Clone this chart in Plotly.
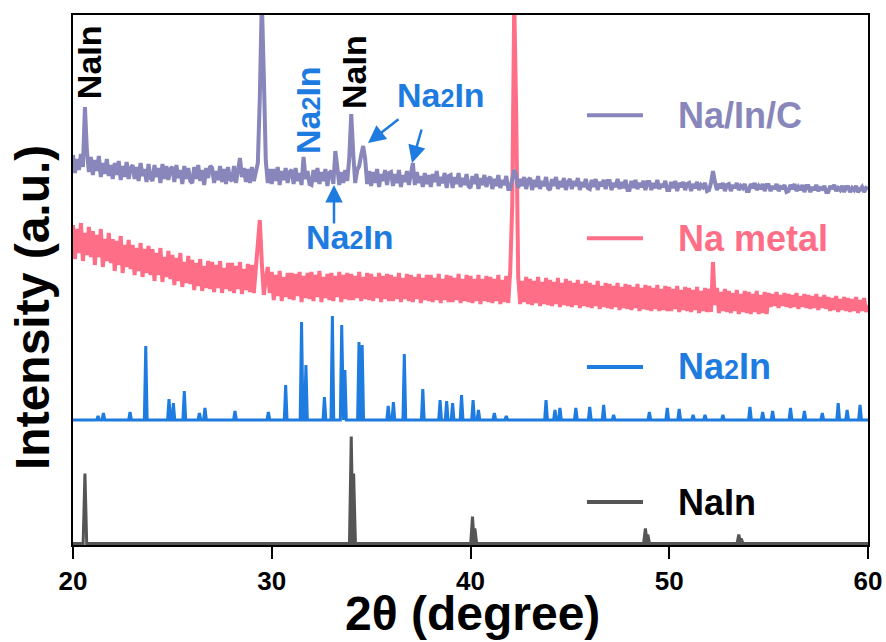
import numpy as np
import plotly.graph_objects as go

# ---------------- data ----------------
two_theta = np.round(np.arange(20.0, 60.05, 0.1), 1)

# Na/In/C measured pattern (offset intensity, a.u.), 20.0 .. 60.0 step 0.1
na_in_c = [
    390,372,386,375,391,378,438,394,373,388,
    370,385,374,389,368,382,371,386,369,380,
    366,382,370,384,365,379,368,383,366,377,
    380,366,378,364,382,369,376,363,381,367,
    364,380,368,377,362,381,366,379,365,376,
    378,363,380,367,375,361,379,366,377,364,
    362,378,366,380,364,375,360,377,367,379,
    377,362,374,365,379,363,376,361,378,366,
    364,379,362,378,387,368,377,363,376,362,
    378,364,375,382,448,545,470,384,362,376,
    361,376,364,378,360,374,365,377,362,373,
    375,361,377,364,372,360,388,366,374,361,
    360,375,363,377,361,373,364,376,359,372,
    374,361,394,377,360,373,362,375,364,387,
    431,391,362,375,379,390,399,386,361,374,
    359,373,362,376,358,371,364,375,360,372,
    373,359,371,362,375,358,370,363,374,360,
    371,382,360,373,362,369,358,372,361,370,
    358,371,363,374,359,368,362,372,357,369,
    370,357,368,361,372,358,367,360,371,359,
    357,369,361,371,356,367,360,370,358,366,
    368,356,366,359,370,357,365,360,369,356,
    356,368,375,369,357,366,359,368,356,365,
    367,355,365,358,369,356,364,359,368,357,
    355,366,359,368,356,364,358,367,355,363,
    366,356,364,359,367,355,363,358,366,357,
    356,365,358,366,355,363,359,365,356,364,
    364,355,362,358,366,356,363,357,365,355,
    355,364,357,365,356,362,358,364,355,363,
    363,355,362,357,365,356,361,358,364,355,
    355,363,357,364,354,362,358,363,355,361,
    362,354,361,357,363,355,360,358,362,354,
    355,362,374,363,355,361,357,362,354,360,
    361,354,360,357,362,355,359,357,361,354,
    354,361,357,362,355,359,356,361,354,360,
    360,354,359,356,361,354,358,357,360,353,
    354,360,356,361,354,358,355,360,353,359,
    359,353,358,355,360,354,357,356,359,353,
    353,359,356,360,354,357,355,359,353,358,
    358,353,357,355,359,353,356,358,353,357,
    356,
]

# Na metal measured pattern (offset intensity, a.u.)
na_metal = [
    320,286,316,292,322,284,312,290,318,288,
    314,280,310,288,316,278,306,284,312,282,
    306,274,304,280,309,272,300,278,305,276,
    300,270,297,274,302,268,296,272,299,270,
    296,264,292,270,297,263,288,268,294,266,
    290,260,287,264,292,258,283,262,289,261,
    285,255,282,259,286,254,279,257,284,256,
    283,253,280,257,284,252,277,256,282,254,
    282,252,279,256,283,251,276,255,281,253,
    280,252,277,300,325,282,250,266,278,252,
    273,245,270,249,274,244,268,248,272,246,
    272,245,271,249,273,243,269,247,272,246,
    273,244,270,248,274,243,268,247,271,245,
    272,244,269,248,273,243,270,246,272,245,
    271,245,269,247,273,244,268,246,272,245,
    271,244,268,247,272,243,269,246,271,244,
    270,244,268,246,272,243,267,246,271,244,
    270,243,268,246,271,242,267,245,270,244,
    270,243,267,245,271,242,266,245,270,243,
    269,243,267,245,271,242,266,244,270,243,
    269,242,266,244,270,241,266,244,269,243,
    268,242,266,244,270,241,265,243,269,242,
    275,340,545,430,268,241,264,243,268,241,
    266,240,264,242,268,239,263,241,267,240,
    265,239,263,241,267,238,262,240,266,239,
    264,238,262,240,265,237,261,239,264,238,
    262,237,260,239,264,236,259,238,262,237,
    261,236,259,238,262,235,258,237,261,236,
    260,235,258,237,261,234,257,236,260,235,
    259,234,257,236,260,234,256,235,259,234,
    258,234,256,236,259,233,255,235,258,234,
    257,233,255,235,258,232,254,234,257,233,
    256,233,283,240,257,232,253,234,256,233,
    254,232,252,234,255,231,251,233,254,232,
    253,231,251,233,254,231,250,232,253,231,
    252,238,251,239,253,237,250,239,252,238,
    251,237,250,238,252,236,249,238,251,237,
    250,236,249,237,251,235,248,237,250,236,
    248,234,247,235,249,233,246,235,248,234,
    247,233,246,234,248,232,245,234,247,233,
    240,
]

# Na2In reference pattern: baseline + peak list
na2in_base = 125
na2in_pos = [21.26, 21.53, 22.87, 23.66, 24.83, 25.05, 25.6, 26.36, 26.64, 28.15,
             29.83, 30.7, 31.5, 31.72, 32.65, 33.05, 33.52, 33.68, 34.39, 34.55,
             35.86, 36.12, 36.67, 37.6, 38.47, 38.8, 39.1, 39.55, 40.13, 40.4,
             41.2, 41.8, 43.8, 44.25, 44.5, 45.3, 46.0, 46.7, 47.2, 49.0,
             49.9, 50.5, 51.2, 51.8, 52.7, 54.06, 54.7, 55.2, 56.1, 56.8,
             57.7, 58.5, 58.95, 59.6]
na2in_hts = [4, 7, 8, 74, 21, 17, 29, 7, 12, 9,
             8, 35, 98, 55, 23, 104, 95, 50, 78, 75,
             14, 18, 66, 31, 20, 19, 17, 25, 20, 10,
             7, 4, 20, 10, 12, 12, 13, 15, 5, 8,
             12, 11, 5, 5, 5, 13, 8, 9, 12, 9,
             7, 17, 10, 15]

# NaIn reference pattern
nain_base = 1.5
nain_pos = [20.6, 34.0, 34.12, 40.1, 40.22, 48.8, 48.92, 53.5, 53.62]
nain_hts = [70, 107, 70, 27, 15, 15, 9, 9, 5]

x_ticks = [20, 30, 40, 50, 60]

# ---------------- styles ----------------
C_NAINC = "#8886BA"
C_NAMET = "#FF6E87"
C_NA2IN = "#1E7BE0"
C_NAIN = "#555555"
FONT = "Liberation Sans, Arial, sans-serif"


def stick_pattern(base, pos, hts, hw):
    xs, ys = [20.0], [base]
    for p, h in sorted(zip(pos, hts)):
        xs += [p - hw, p, p + hw]
        ys += [base, base + h, base]
    xs.append(60.0)
    ys.append(base)
    return xs, ys


fig = go.Figure()

nx, ny = stick_pattern(nain_base, nain_pos, nain_hts, 0.09)
fig.add_trace(go.Scatter(x=nx, y=ny, mode="lines", name="NaIn",
                         line=dict(color=C_NAIN, width=3)))
bx, by = stick_pattern(na2in_base, na2in_pos, na2in_hts, 0.07)
fig.add_trace(go.Scatter(x=bx, y=by, mode="lines", name="Na2In",
                         line=dict(color=C_NA2IN, width=3)))
fig.add_trace(go.Scatter(x=two_theta, y=na_metal, mode="lines", name="Na metal",
                         line=dict(color=C_NAMET, width=4)))
fig.add_trace(go.Scatter(x=two_theta, y=na_in_c, mode="lines", name="Na/In/C",
                         line=dict(color=C_NAINC, width=4)))

# legend-like labels next to curves
legend_items = [
    ("Na/In/C", C_NAINC, 0.811),
    ("Na metal", C_NAMET, 0.579),
    ("Na<span style='font-size:27px'>2</span>In", C_NA2IN, 0.336),
    ("NaIn", "#000000", 0.081),
]
line_cols = [C_NAINC, C_NAMET, C_NA2IN, C_NAIN]
annotations = []
shapes = []
for (txt, col, yp), lc in zip(legend_items, line_cols):
    shapes.append(dict(type="line", xref="paper", yref="paper",
                       x0=0.6465, x1=0.717, y0=yp, y1=yp,
                       line=dict(color=lc, width=4)))
    annotations.append(dict(text=txt, xref="paper", yref="paper", x=0.758, y=yp,
                            xanchor="left", yanchor="middle", showarrow=False,
                            font=dict(family=FONT, size=36, color=col, weight="bold")))

small2 = "Na<span style='font-size:25px'>2</span>In"
peak_labels = [
    ("NaIn", "#000000", 0.0201, 0.911, -90),
    (small2, C_NA2IN, 0.2956, 0.8208, -90),
    ("NaIn", "#000000", 0.3535, 0.8925, -90),
    (small2, C_NA2IN, 0.4629, 0.849, 0),
    (small2, C_NA2IN, 0.3484, 0.581, 0),
]
for txt, col, xp, yp, ang in peak_labels:
    annotations.append(dict(text=txt, xref="paper", yref="paper", x=xp, y=yp,
                            xanchor="center", yanchor="middle", showarrow=False,
                            textangle=ang,
                            font=dict(family=FONT, size=34, color=col, weight="bold")))

# arrows (tip in paper coords, tail offset in px)
arrows = [
    ((334 - 73) / 795, (545 - 185) / 530, 0, 40),
    ((368 - 73) / 795, (545 - 143) / 530, 32, -25),
    ((412 - 73) / 795, (545 - 163) / 530, 10, -35),
]
for xp, yp, ax, ay in arrows:
    annotations.append(dict(text="", xref="paper", yref="paper", x=xp, y=yp,
                            ax=ax, ay=ay, axref="pixel", ayref="pixel",
                            showarrow=True, arrowhead=2, arrowsize=1.4,
                            arrowwidth=2.5, arrowcolor=C_NA2IN))

# axis titles as annotations
annotations.append(dict(text="2θ (degree)", xref="paper", yref="paper",
                        x=0.502, y=-0.129, xanchor="center", yanchor="middle",
                        showarrow=False,
                        font=dict(family=FONT, size=48, color="#000000", weight="bold")))
annotations.append(dict(text="Intensity (a.u.)", xref="paper", yref="paper",
                        x=-0.0516, y=0.449, xanchor="center", yanchor="middle",
                        showarrow=False, textangle=-90,
                        font=dict(family=FONT, size=48, color="#000000", weight="bold")))

fig.update_layout(
    width=886, height=642,
    margin=dict(l=73, r=18, t=15, b=97, autoexpand=False),
    paper_bgcolor="white", plot_bgcolor="white",
    showlegend=False,
    annotations=annotations,
    shapes=shapes,
    xaxis=dict(range=[20, 60], tickvals=x_ticks, ticktext=[str(t) for t in x_ticks],
               ticks="outside", ticklen=12, tickwidth=2, tickcolor="#000000",
               showline=True, linecolor="#000000", linewidth=2, mirror=True,
               showgrid=False, zeroline=False, ticklabelstandoff=0, automargin=False,
               tickfont=dict(family=FONT, size=26, color="#000000", weight="bold")),
    yaxis=dict(range=[0, 530], showticklabels=False, ticks="", automargin=False,
               showline=True, linecolor="#000000", linewidth=2, mirror=True,
               showgrid=False, zeroline=False),
)

fig.write_html("out.html")
